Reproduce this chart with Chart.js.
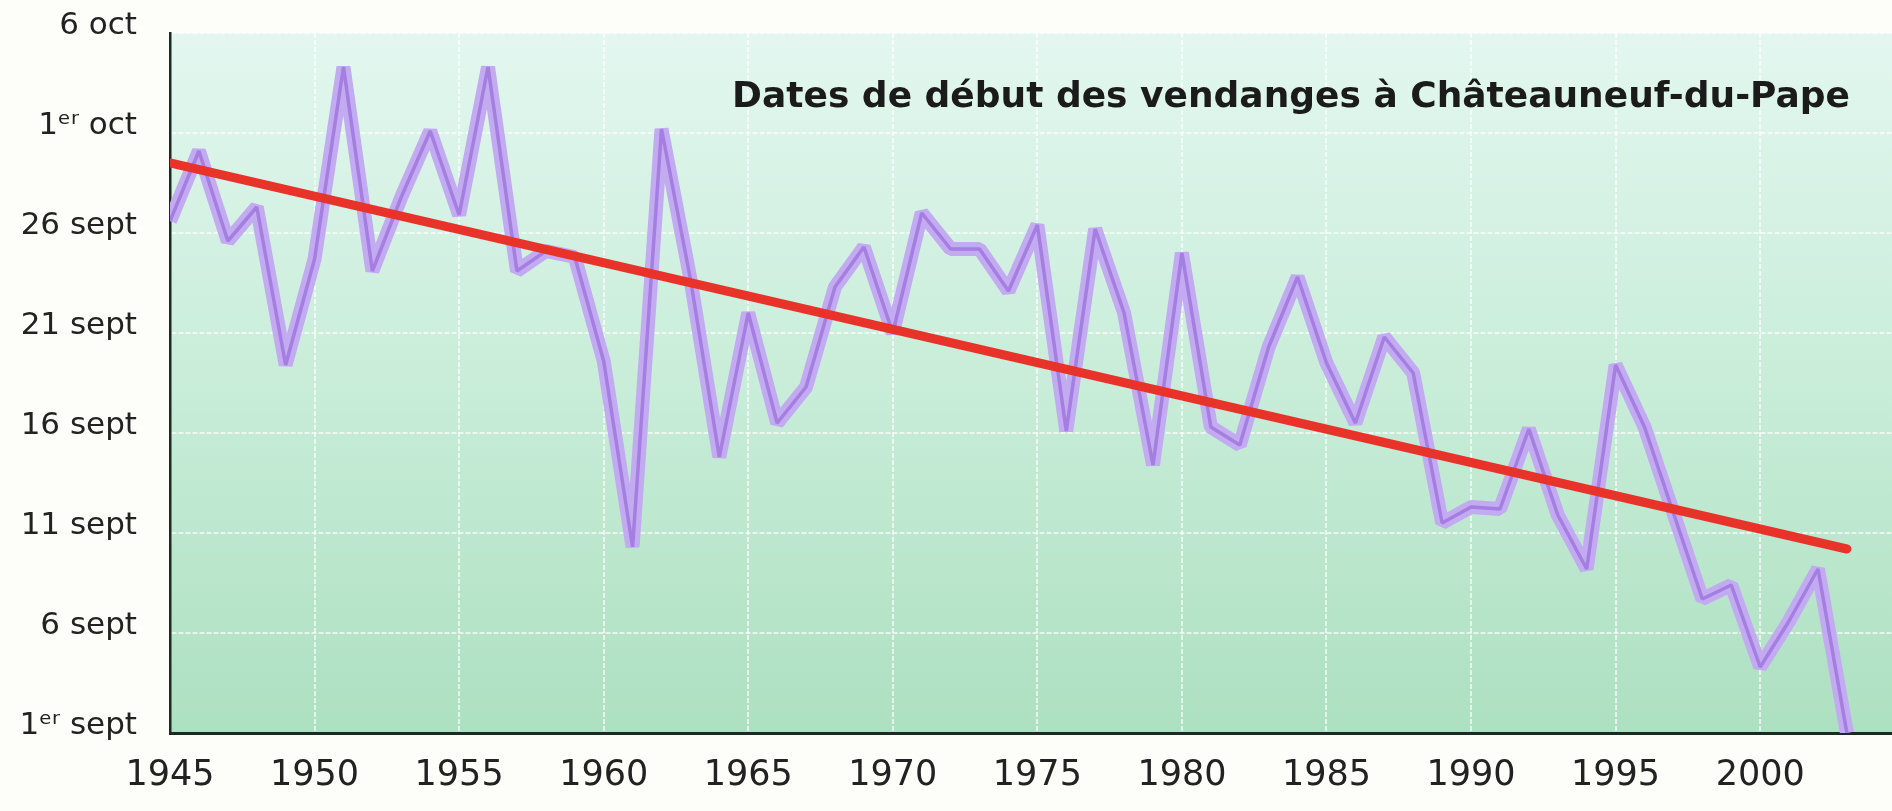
<!DOCTYPE html>
<html lang="fr">
<head>
<meta charset="utf-8">
<title>Dates de début des vendanges à Châteauneuf-du-Pape</title>
<script src="https://cdn.jsdelivr.net/npm/chart.js@4.4.1/dist/chart.umd.min.js"></script>
<style>
  html, body { margin: 0; padding: 0; background: #fdfdf9; }
  canvas { display: block; }
</style>
</head>
<body>
<canvas id="chart" width="1892" height="811"></canvas>
<script>
// Harvest years
const years = [
  1945, 1946, 1947, 1948, 1949, 1950, 1951, 1952, 1953, 1954,
  1955, 1956, 1957, 1958, 1959, 1960, 1961, 1962, 1963, 1964,
  1965, 1966, 1967, 1968, 1969, 1970, 1971, 1972, 1973, 1974,
  1975, 1976, 1977, 1978, 1979, 1980, 1981, 1982, 1983, 1984,
  1985, 1986, 1987, 1988, 1989, 1990, 1991, 1992, 1993, 1994,
  1995, 1996, 1997, 1998, 1999, 2000, 2001, 2002, 2003
];

// First day of the harvest, counted from 1 September (1 = 1er sept, 31 = 1er oct)
const harvestDay = [
  26.6, 30.1, 25.6, 27.3, 19.4, 24.7, 34.3, 24.1, 27.8, 31.1,
  26.9, 34.3, 24.1, 25.1, 24.8, 19.6, 10.3, 31.2, 23.7, 14.8,
  22.0, 16.5, 18.3, 23.3, 25.3, 21.0, 27.0, 25.2, 25.2, 23.1,
  26.4, 16.1, 26.2, 22.0, 14.4, 25.0, 16.3, 15.4, 20.3, 23.8,
  19.5, 16.5, 20.8, 19.0, 11.5, 12.3, 12.2, 16.2, 11.9, 9.2,
  19.4, 16.3, 12.0, 7.7, 8.4, 4.3, 6.6, 9.2, 1.0
];

// Linear trend over the period (end points)
const trendYears = [1945, 2003];
const trendDay = [29.5, 10.2];

// Axis ticks
const xTickYears = [1945, 1950, 1955, 1960, 1965, 1970, 1975, 1980, 1985, 1990, 1995, 2000];
const yTickDays = [1, 6, 11, 16, 21, 26, 31, 36];
const yTickLabels = ['1ᵉʳ sept', '6 sept', '11 sept', '16 sept', '21 sept', '26 sept', '1ᵉʳ oct', '6 oct'];

const chartTitle = 'Dates de début des vendanges à Châteauneuf-du-Pape';

const FONT = "'DejaVu Sans', 'Noto Sans', sans-serif";

const toPoints = (xs, ys) => xs.map((x, i) => ({ x: x, y: ys[i] }));

// Mint gradient behind the plotting area
const plotBackground = {
  id: 'plotBackground',
  beforeDraw(chart) {
    const { ctx, chartArea: a } = chart;
    const g = ctx.createLinearGradient(0, a.top, 0, a.bottom);
    g.addColorStop(0, '#e3f7f0');
    g.addColorStop(0.45, '#cbeedb');
    g.addColorStop(1, '#ade0c1');
    ctx.save();
    ctx.fillStyle = g;
    ctx.fillRect(a.left, a.top, a.right - a.left, a.bottom - a.top);
    ctx.restore();
  }
};

// Title set inside the plot, top right
const innerTitle = {
  id: 'innerTitle',
  afterDatasetsDraw(chart) {
    const { ctx, chartArea: a } = chart;
    ctx.save();
    ctx.font = 'bold 36px ' + FONT;
    ctx.fillStyle = '#1b1b1b';
    ctx.textAlign = 'right';
    ctx.textBaseline = 'alphabetic';
    ctx.fillText(chartTitle, a.right - 42, a.top + 74);
    ctx.restore();
  }
};

new Chart(document.getElementById('chart'), {
  type: 'line',
  data: {
    datasets: [
      {
        label: 'Tendance',
        data: toPoints(trendYears, trendDay),
        borderColor: '#e8332a',
        borderWidth: 9,
        borderCapStyle: 'round',
        pointRadius: 0,
        tension: 0,
        clip: 0,
        order: 0
      },
      {
        label: 'Début des vendanges (trait)',
        data: toPoints(years, harvestDay),
        borderColor: '#a47ee0',
        borderWidth: 3.5,
        borderJoinStyle: 'bevel',
        pointRadius: 0,
        tension: 0,
        clip: 0,
        order: 1
      },
      {
        label: 'Début des vendanges',
        data: toPoints(years, harvestDay),
        borderColor: '#c3abf1',
        borderWidth: 14,
        borderJoinStyle: 'bevel',
        pointRadius: 0,
        tension: 0,
        clip: 0,
        order: 2
      }
    ]
  },
  options: {
    responsive: false,
    animation: false,
    devicePixelRatio: 1,
    layout: { padding: { top: 33, right: 0, bottom: 0, left: 0 } },
    plugins: {
      legend: { display: false },
      title: { display: false },
      tooltip: { enabled: false }
    },
    scales: {
      x: {
        type: 'linear',
        min: 1945,
        max: 2004.56,
        afterBuildTicks(scale) { scale.ticks = xTickYears.map(v => ({ value: v })); },
        afterFit(scale) {
          scale.height = 78;
          scale.paddingLeft = 0;
          scale.paddingRight = 0;
        },
        ticks: {
          autoSkip: false,
          maxRotation: 0,
          padding: 22,
          color: '#222',
          font: { family: FONT, size: 35 },
          callback: v => String(v)
        },
        grid: {
          color: 'rgba(255,255,255,0.65)',
          lineWidth: 2,
          drawTicks: false
        },
        border: { display: true, color: '#1c2a22', width: 3, dash: [5, 2] }
      },
      y: {
        type: 'linear',
        min: 1,
        max: 36,
        afterBuildTicks(scale) { scale.ticks = yTickDays.map(v => ({ value: v })); },
        afterFit(scale) {
          scale.width = 170;
          scale.paddingTop = 0;
          scale.paddingBottom = 0;
        },
        ticks: {
          autoSkip: false,
          padding: 33,
          labelOffset: -7,
          color: '#222',
          font: { family: FONT, size: 31 },
          callback: v => yTickLabels[yTickDays.indexOf(v)]
        },
        grid: {
          color: 'rgba(255,255,255,0.65)',
          lineWidth: 2,
          drawTicks: false
        },
        border: { display: true, color: '#1c2a22', width: 2.5, dash: [5, 2] }
      }
    }
  },
  plugins: [plotBackground, innerTitle]
});
</script>
</body>
</html>
